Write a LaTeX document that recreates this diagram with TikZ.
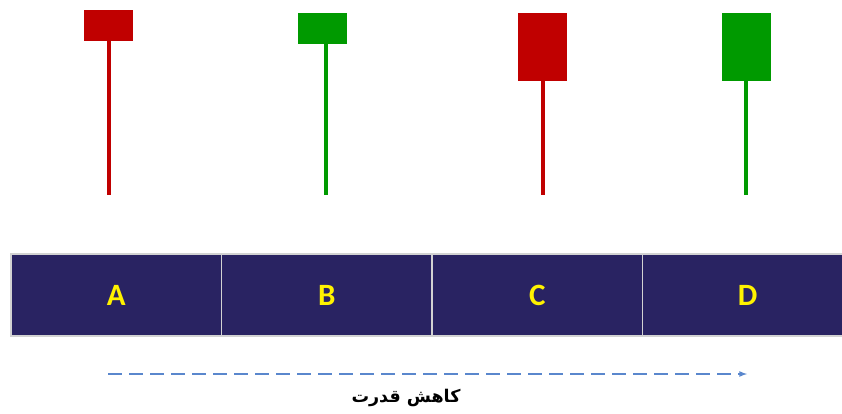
\documentclass[tikz,border=0pt]{standalone}
\usepackage{fontspec}
\setmainfont{Carlito}
\newfontfamily\arabicfont[Script=Arabic]{DejaVu Sans}
\TeXXeTstate=1
\usetikzlibrary{positioning}
\definecolor{rouge}{RGB}{192,0,0}
\definecolor{vert}{RGB}{0,154,0}
\definecolor{marine}{RGB}{41,35,98}
\definecolor{bleu}{RGB}{90,135,205}

\tikzset{bougie/.style={fill=#1,minimum width=49pt,anchor=north,inner sep=0pt},bougie/.default={rouge},
meche/.style={draw=#1,line width=4pt},meche/.default={rouge},
case/.style={draw=gray!35,fill=marine,line width=1.2pt,outer sep=0pt,minimum width=210.5pt,minimum height=82pt,text=yellow,font=\bfseries\fontsize{31}{36}\selectfont}}

\begin{document}
\begin{tikzpicture}[x=1pt,y=-1pt]
\clip (0,0) rectangle (842,413);
% bougies
\node [bougie=rouge,minimum height=31pt] (bA) at (108.5,10) {};
\node [bougie=vert,minimum height=31pt] (bB) at (322.5,13) {};
\node [bougie=rouge,minimum height=68pt] (bC) at (542.5,13) {};
\node [bougie=vert,minimum height=68pt] (bD) at (746.5,13) {};
\coordinate (mA) at (109,195);
\coordinate (mB) at (326,195);
\coordinate (mC) at (543,195);
\coordinate (mD) at (746,195);
\draw [meche=rouge] (bA.south -| mA) -- (mA);
\draw [meche=vert] (bB.south -| mB) -- (mB);
\draw [meche=rouge] (bC.south -| mC) -- (mC);
\draw [meche=vert] (bD.south -| mD) -- (mD);
% cases
\node [case,anchor=north west] (cA) at (11,254) {A};
\node [case,right=0pt of cA] (cB) {B};
\node [case,right=0pt of cB] (cC) {C};
\node [case,right=0pt of cC] (cD) {D};
% fleche
\coordinate (fDebut) at (108,374);
\coordinate (fFin) at (747,374);
\draw [draw=bleu,line width=1.6pt,dash pattern=on 14pt off 7pt,-latex] (fDebut) -- (fFin);
\node [font=\arabicfont\bfseries\fontsize{17.5}{20}\selectfont] (titre) at (406,398) {\beginR کاهش قدرت\endR};
\end{tikzpicture}
\end{document}
